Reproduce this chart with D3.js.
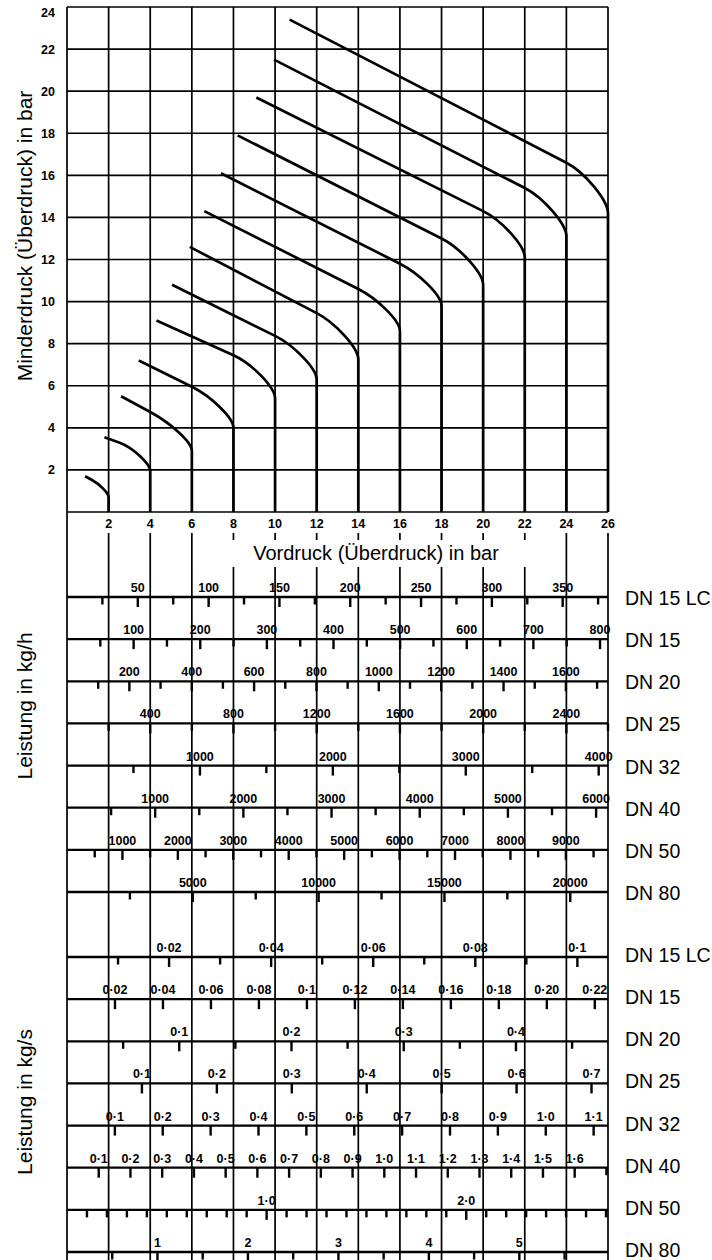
<!DOCTYPE html>
<html>
<head>
<meta charset="utf-8">
<script src="https://cdn.jsdelivr.net/npm/d3@7"></script>
<style>
  body { margin: 0; background: #fff; }
  text { font-family: "Liberation Sans", Arial, Helvetica, sans-serif; fill: #000; }
  .tl { font-weight: bold; font-size: 12.5px; }
  .title { font-size: 21px; }
  .dn { font-size: 19.5px; }
</style>
</head>
<body>
<svg id="chart" width="712" height="1260"></svg>
<script>
// --- top chart: Vordruck (x) vs Minderdruck (y), bar
const xTickLabels = [2, 4, 6, 8, 10, 12, 14, 16, 18, 20, 22, 24, 26];
const yTickLabels = [2, 4, 6, 8, 10, 12, 14, 16, 18, 20, 22, 24];

// each curve: straight run from its start to the knee, then a bend
// down to its Vordruck value, then vertical to 0
const curveEnds = [2, 4, 6, 8, 10, 12, 14, 16, 18, 20, 22, 24, 26];
const curveStart = [
  [0.87, 1.7], [1.8, 3.55], [2.6, 5.5], [3.45, 7.2], [4.3, 9.1], [5.05, 10.8], [5.9, 12.6],
  [6.6, 14.3], [7.4, 16.1], [8.2, 17.9], [9.1, 19.7], [9.95, 21.5], [10.7, 23.4]
];
const curveKnee = [
  [1.2, 1.52], [2.5, 3.3], [4, 4.75], [6, 5.95], [8, 7.45], [10, 8.37], [12, 9.45],
  [14, 10.6], [16, 11.8], [18, 13.0], [20, 14.3], [22, 15.4], [24, 16.6]
];
const curveEndY = [0.7, 1.95, 2.9, 4.0, 5.4, 6.3, 7.25, 8.6, 9.8, 10.8, 12.1, 13.1, 14.2];

// --- lower nomogram: Leistung scales
const dnNames = ["DN 15 LC", "DN 15", "DN 20", "DN 25", "DN 32", "DN 40", "DN 50", "DN 80"];

const kghMax = [382, 812, 1735, 2600, 4070, 6135, 9760, 21500];
const kghStep = [25, 50, 100, 200, 500, 500, 500, 2500];
const kghLabels = [
  ["50", "100", "150", "200", "250", "300", "350"],
  ["100", "200", "300", "400", "500", "600", "700", "800"],
  ["200", "400", "600", "800", "1000", "1200", "1400", "1600"],
  ["400", "800", "1200", "1600", "2000", "2400"],
  ["1000", "2000", "3000", "4000"],
  ["1000", "2000", "3000", "4000", "5000", "6000"],
  ["1000", "2000", "3000", "4000", "5000", "6000", "7000", "8000", "9000"],
  ["5000", "10000", "15000", "20000"]
];

const kgsMax = [0.106, 0.2255, 0.482, 0.722, 1.13, 1.705, 2.71, 5.98];
const kgsStep = [0.01, 0.02, 0.05, 0.1, 0.1, 0.1, 0.1, 0.5];
const kgsLabels = [
  ["0·02", "0·04", "0·06", "0·08", "0·1"],
  ["0·02", "0·04", "0·06", "0·08", "0·1", "0·12", "0·14", "0·16", "0·18", "0·20", "0·22"],
  ["0·1", "0·2", "0·3", "0·4"],
  ["0·1", "0·2", "0·3", "0·4", "0·5", "0·6", "0·7"],
  ["0·1", "0·2", "0·3", "0·4", "0·5", "0·6", "0·7", "0·8", "0·9", "1·0", "1·1"],
  ["0·1", "0·2", "0·3", "0·4", "0·5", "0·6", "0·7", "0·8", "0·9", "1·0", "1·1", "1·2", "1·3", "1·4", "1·5", "1·6"],
  ["1·0", "2·0"],
  ["1", "2", "3", "4", "5"]
];

const svg = d3.select("#chart");

const x = d3.scaleLinear().domain([0, 26]).range([67, 608]);
const y = d3.scaleLinear().domain([0, 24]).range([512, 7]);

const gridX = [0].concat(xTickLabels);
const gridY = [0].concat(yTickLabels);

// top grid
svg.append("g").selectAll("line")
  .data(gridY)
  .enter()
  .append("line")
  .attr("x1", x(0)).attr("x2", x(26))
  .attr("y1", d => y(d)).attr("y2", d => y(d))
  .attr("stroke", "#000").attr("stroke-width", 1.7);

svg.append("g").selectAll("line")
  .data(gridX)
  .enter()
  .append("line")
  .attr("x1", d => x(d)).attr("x2", d => x(d))
  .attr("y1", y(24)).attr("y2", y(0))
  .attr("stroke", "#000").attr("stroke-width", 1.7);

// lower vertical lines (left border runs straight through)
svg.append("line")
  .attr("x1", x(0)).attr("x2", x(0)).attr("y1", y(0)).attr("y2", 1260)
  .attr("stroke", "#000").attr("stroke-width", 1.7);

svg.append("g").selectAll("line")
  .data(xTickLabels)
  .enter()
  .append("line")
  .attr("x1", d => x(d)).attr("x2", d => x(d))
  .attr("y1", 533).attr("y2", 1260)
  .attr("stroke", "#000").attr("stroke-width", 1.7);

// axis labels of top chart
svg.append("g").selectAll("text")
  .data(xTickLabels)
  .enter()
  .append("text")
  .attr("class", "tl")
  .attr("x", d => x(d))
  .attr("y", y(0) + 16)
  .attr("text-anchor", "middle")
  .text(d => d);

svg.append("g").selectAll("text")
  .data(yTickLabels)
  .enter()
  .append("text")
  .attr("class", "tl")
  .attr("x", x(0) - 12)
  .attr("y", d => y(d) + (d === 24 ? 10 : 4.5))
  .attr("text-anchor", "end")
  .text(d => d);

// x title with a white gap behind it
svg.append("rect")
  .attr("x", 205).attr("y", 540).attr("width", 335).attr("height", 27)
  .attr("fill", "#fff");

svg.append("text")
  .attr("class", "title")
  .style("font-size", "20px")
  .attr("x", 376).attr("y", 560)
  .attr("text-anchor", "middle")
  .text("Vordruck (Überdruck) in bar");

svg.append("text")
  .attr("class", "title")
  .attr("transform", "translate(32,236) rotate(-90)")
  .attr("text-anchor", "middle")
  .text("Minderdruck (Überdruck) in bar");

// curves
svg.append("g").selectAll("path")
  .data(curveEnds)
  .enter()
  .append("path")
  .attr("d", (p, i) => {
    const s = curveStart[i];
    const k = curveKnee[i];
    const ye = curveEndY[i];
    const dx = p - k[0];
    const slope = (k[1] - s[1]) / (k[0] - s[0]);
    const c1 = [k[0] + 0.45 * dx, k[1] + slope * 0.45 * dx];
    const c2 = [p, ye + 0.25 * (k[1] - ye)];
    const path = d3.path();
    path.moveTo(x(s[0]), y(s[1]));
    path.lineTo(x(k[0]), y(k[1]));
    path.bezierCurveTo(x(c1[0]), y(c1[1]), x(c2[0]), y(c2[1]), x(p), y(ye));
    path.lineTo(x(p), y(0));
    return path.toString();
  })
  .attr("fill", "none")
  .attr("stroke", "#000")
  .attr("stroke-width", 2.7)
  .attr("stroke-linejoin", "round");

// scale rows
function drawRows(maxes, steps, labels, yRange, dnDy) {
  const rowY = d3.scalePoint().domain(d3.range(dnNames.length)).range(yRange);

  dnNames.forEach((name, i) => {
    const s = d3.scaleLinear().domain([0, maxes[i]]).range([x(0), x(26)]);
    const yy = rowY(i);
    const g = svg.append("g");

    g.append("line")
      .attr("x1", x(0)).attr("x2", x(26))
      .attr("y1", yy).attr("y2", yy)
      .attr("stroke", "#000").attr("stroke-width", 2.3);

    const labelVals = labels[i].map(t => +t.replace("·", "."));
    const n = Math.floor(maxes[i] / steps[i] + 1e-6);
    const ticks = d3.range(1, n + 1).map(k => +(k * steps[i]).toFixed(4));
    const isMajor = v => labelVals.some(l => Math.abs(l - v) < steps[i] / 10);

    g.selectAll(".tk")
      .data(ticks)
      .enter()
      .append("line")
      .attr("x1", d => s(d)).attr("x2", d => s(d))
      .attr("y1", yy).attr("y2", d => yy + (isMajor(d) ? 10 : 7.5))
      .attr("stroke", "#000").attr("stroke-width", 2.4);

    g.selectAll(".lb")
      .data(labels[i])
      .enter()
      .append("text")
      .attr("class", "tl")
      .attr("x", (d, k) => s(labelVals[k]))
      .attr("y", yy - 5)
      .attr("text-anchor", "middle")
      .text(d => d);

    g.append("text")
      .attr("class", "dn")
      .attr("x", 625)
      .attr("y", yy + dnDy)
      .text(name);
  });
}

drawRows(kghMax, kghStep, kghLabels, [597, 892], 8);
drawRows(kgsMax, kgsStep, kgsLabels, [957, 1252], 5);

svg.append("text")
  .attr("class", "title")
  .attr("transform", "translate(32,706) rotate(-90)")
  .attr("text-anchor", "middle")
  .text("Leistung in kg/h");

svg.append("text")
  .attr("class", "title")
  .attr("transform", "translate(32,1102) rotate(-90)")
  .attr("text-anchor", "middle")
  .text("Leistung in kg/s");
</script>
</body>
</html>
